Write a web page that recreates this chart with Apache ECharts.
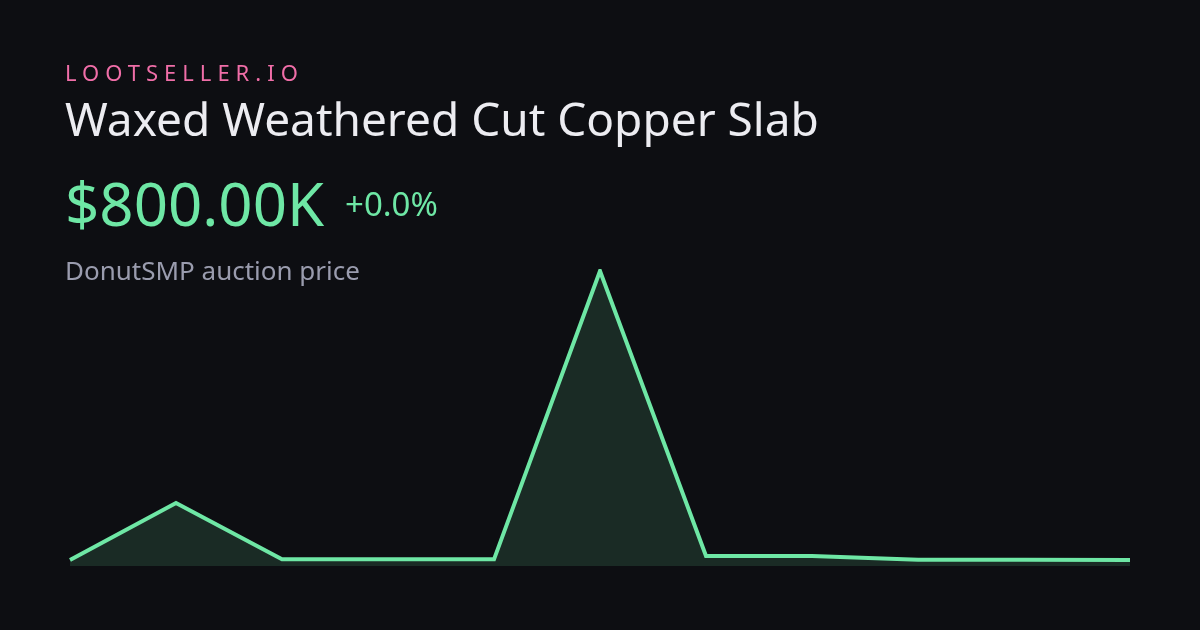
<!DOCTYPE html>
<html style="height: 100%">
   <head>
       <meta charset="utf-8">
       <title>Waxed Weathered Cut Copper Slab</title>
       <style>
           body { margin: 0; height: 100%; background: #0d0e12; font-family: "Noto Sans", sans-serif; }
           #container { position: absolute; left: 0; top: 0; width: 1200px; height: 630px; }
           .txt { position: absolute; left: 65px; white-space: nowrap; line-height: 1; }
       </style>
   </head>
   <body>
       <div id="container"></div>
       <div class="txt" id="brand" style="top:61px; font-size:22px; letter-spacing:6px; color:#f06ea8;"></div>
       <div class="txt" id="name" style="top:95px; font-size:46px; color:#ececf1;"></div>
       <div class="txt" id="price" style="top:173px; font-size:60px; color:#6ee7a5;"></div>
       <div class="txt" id="change" style="left:345px; top:187px; font-size:33px; color:#6ee7a5;"></div>
       <div class="txt" id="sub" style="top:257px; font-size:26px; color:#9a9cae;"></div>
       <script type="text/javascript" src="https://cdn.jsdelivr.net/npm/echarts@6/dist/echarts.min.js"></script>
       <script type="text/javascript">
var brand = 'LOOTSELLER.IO';
var itemName = 'Waxed Weathered Cut Copper Slab';
var priceText = '$800.00K';
var changeText = '+0.0%';
var subText = 'DonutSMP auction price';

// price history, in thousands
var days = ['1', '2', '3', '4', '5', '6', '7', '8', '9', '10', '11'];
var prices = [800, 1630, 810, 810, 810, 5000, 860, 860, 805, 805, 800];

document.getElementById('brand').textContent = brand;
document.getElementById('name').textContent = itemName;
document.getElementById('price').textContent = priceText;
document.getElementById('change').textContent = changeText;
document.getElementById('sub').textContent = subText;

var dom = document.getElementById("container");
var myChart = echarts.init(dom);
var option = {
    backgroundColor: '#0d0e12',
    animation: false,
    grid: { left: 70, right: 70, top: 271, bottom: 64 },
    xAxis: {
        type: 'category',
        data: days,
        boundaryGap: false,
        show: false
    },
    yAxis: {
        type: 'value',
        min: 713,
        max: 5000,
        show: false
    },
    series: [
        {
            type: 'line',
            data: prices,
            symbol: 'none',
            lineStyle: { color: '#6ee7a5', width: 4, join: 'miter' },
            areaStyle: { color: 'rgba(110,231,165,0.19)', origin: 'start' }
        }
    ]
};
myChart.setOption(option, true);
       </script>
   </body>
</html>
